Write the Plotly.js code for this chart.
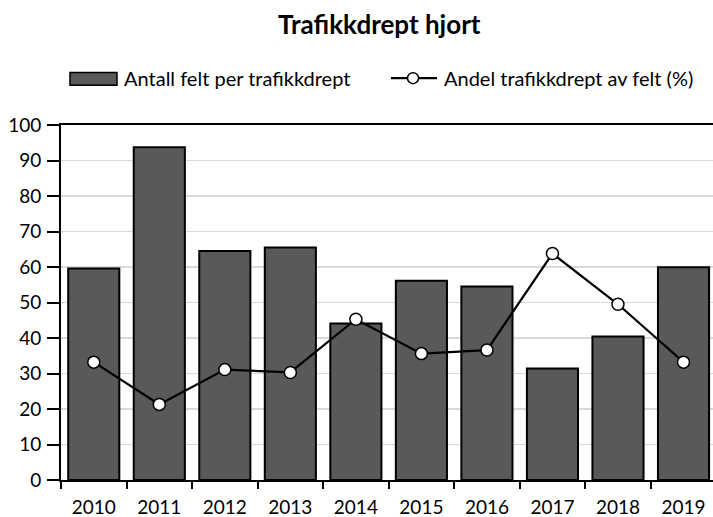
<!DOCTYPE html>
<html>
<head>
<meta charset="utf-8">
<script src="https://cdn.plot.ly/plotly-3.0.1.min.js"></script>
<style>html,body{margin:0;padding:0;background:#fff;}#chart{width:713px;height:517px;}</style>
</head>
<body>
<div id="chart"></div>
<script>
const years = ["2010","2011","2012","2013","2014","2015","2016","2017","2018","2019"];
const feltPerDrept = [59.6, 93.7, 64.5, 65.5, 44.1, 56.1, 54.5, 31.4, 40.4, 59.9];
const andelDrept = [33.2, 21.3, 31.1, 30.3, 45.3, 35.6, 36.6, 63.8, 49.5, 33.2];
const yTicks = [0,10,20,30,40,50,60,70,80,90,100];
const seriesNames = ["Antall felt per trafikkdrept", "Andel trafikkdrept av felt (%)"];

const font = "Lato, 'Open Sans', sans-serif";
const barColor = "#595959";
const data = [
  {
    type: "bar", x: years, y: feltPerDrept, name: seriesNames[0],
    marker: {color: barColor, line: {color: "#000", width: 2}}, width: 0.78
  },
  {
    type: "scatter", mode: "lines+markers", x: years, y: andelDrept,
    name: seriesNames[1],
    line: {color: "#000", width: 2.2},
    marker: {symbol: "circle", size: 12, color: "#fff", line: {color: "#000", width: 1.5}}
  }
];

// custom legend (paper coordinates relative to plot area)
const legY = 1.132;
const shapes = [
  {type: "rect", xref: "paper", yref: "paper", x0: 0.0138, x1: 0.0859, y0: 1.112, y1: 1.148,
   fillcolor: barColor, line: {color: "#000", width: 1.5}},
  {type: "line", xref: "paper", yref: "paper", x0: 0.5061, x1: 0.5767, y0: legY, y1: legY,
   line: {color: "#000", width: 2.2}},
  {type: "circle", xref: "paper", yref: "paper", xsizemode: "pixel", ysizemode: "pixel",
   xanchor: 0.5399, yanchor: legY, x0: -5.5, x1: 5.5, y0: -5.5, y1: 5.5,
   fillcolor: "#fff", line: {color: "#000", width: 1.5}}
];
const annotations = [
  {xref: "paper", yref: "paper", x: 0.0935, y: legY, xanchor: "left", yanchor: "middle",
   text: seriesNames[0], showarrow: false, font: {family: font, size: 20, color: "#000"}},
  {xref: "paper", yref: "paper", x: 0.584, y: legY, xanchor: "left", yanchor: "middle",
   text: seriesNames[1], showarrow: false, font: {family: font, size: 20, color: "#000"}}
];

const layout = {
  width: 713, height: 517,
  margin: {l: 61, r: 0, t: 125, b: 37},
  paper_bgcolor: "#fff", plot_bgcolor: "#fff",
  font: {family: font, size: 19, color: "#000"},
  title: {text: "Trafikkdrept hjort", x: 0.532, xanchor: "center", y: 0.951, yanchor: "middle",
          font: {family: font, size: 26, color: "#000", weight: "bold"}},
  showlegend: false,
  shapes: shapes,
  annotations: annotations,
  xaxis: {
    type: "category", range: [-0.5, 9.45],
    showline: true, linecolor: "#000", linewidth: 2, mirror: true,
    ticks: "outside", tickson: "boundaries", ticklen: 7, tickcolor: "#000", tickwidth: 2,
    ticklabelstandoff: 9,
    showgrid: false, tickfont: {family: font, size: 19, color: "#000"}, fixedrange: true
  },
  yaxis: {
    range: [0, 100], tickvals: yTicks, ticktext: yTicks.map(String),
    showline: true, linecolor: "#000", linewidth: 2,
    ticks: "outside", ticklen: 12, tickcolor: "#000", tickwidth: 2,
    ticklabelstandoff: 2,
    showgrid: true, gridcolor: "#d9d9d9", gridwidth: 1.5, zeroline: false,
    tickfont: {family: font, size: 19, color: "#000"}, fixedrange: true
  }
};
Plotly.newPlot("chart", data, layout, {displayModeBar: false, staticPlot: true});
</script>
</body>
</html>
